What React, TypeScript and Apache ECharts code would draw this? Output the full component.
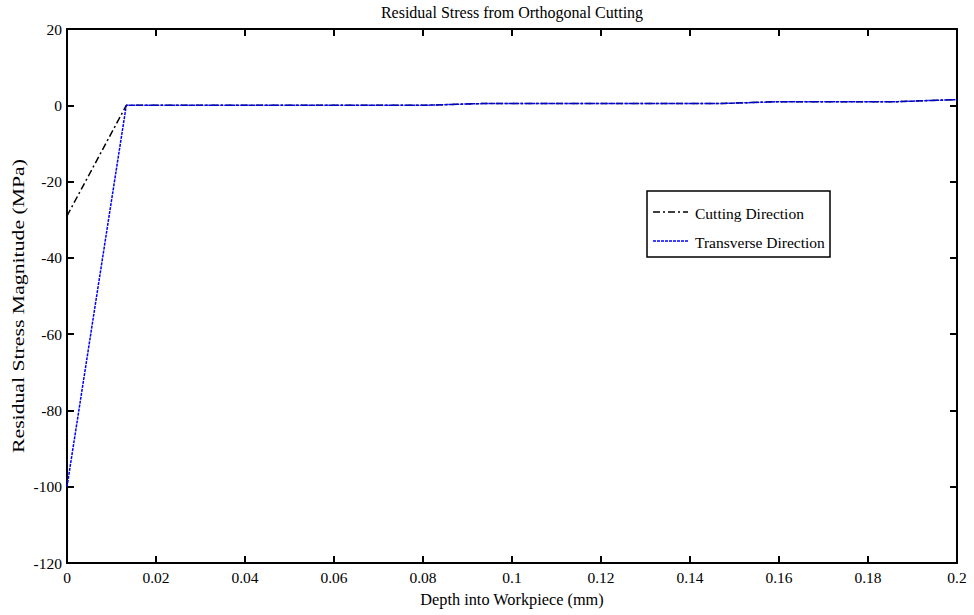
import React, { useEffect, useRef } from "react";
import * as echarts from "echarts";

const depth = [0, 0.01333, 0.02667, 0.04, 0.05333, 0.06667, 0.08, 0.09333, 0.10667, 0.12, 0.13333, 0.14667, 0.16, 0.17333, 0.18667, 0.2];
const cutting = [-29, 0, 0, 0, 0, 0, 0, 0.45, 0.45, 0.45, 0.45, 0.45, 0.95, 0.95, 0.95, 1.5];
const transverse = [-100, 0, 0, 0, 0, 0, 0, 0.45, 0.45, 0.45, 0.45, 0.45, 0.95, 0.95, 0.95, 1.5];
const seriesNames = ["Cutting Direction", "Transverse Direction"];
const yAxisTitle = "Residual Stress Magnitude (MPa)";

const FONT = "'Liberation Serif', 'Times New Roman', Times, serif";

export default function App() {
  const ref = useRef<HTMLDivElement>(null);
  useEffect(() => {
    if (!ref.current) return;
    const chart = echarts.init(ref.current, undefined, { renderer: "svg" });
    const axisCommon = {
      axisLine: { show: true, onZero: false, lineStyle: { color: "#000", width: 2 } },
      axisTick: { show: true, inside: true, length: 7, lineStyle: { color: "#000", width: 2 } },
      splitLine: { show: false },
    };
    const toPairs = (ys: number[]) => depth.map((x, i) => [x, ys[i]]);
    chart.setOption({
      animation: false,
      backgroundColor: "#fff",
      textStyle: { fontFamily: FONT },
      title: {
        text: "Residual Stress from Orthogonal Cutting",
        left: 512,
        textAlign: "center",
        top: 4,
        padding: 0,
        textStyle: { fontFamily: FONT, fontSize: 16, fontWeight: "normal", color: "#000" },
      },
      grid: { left: 67, top: 29, right: 17, bottom: 52 },
      xAxis: [
        {
          type: "value",
          position: "bottom",
          min: 0,
          max: 0.2,
          interval: 0.02,
          name: "Depth into Workpiece (mm)",
          nameLocation: "middle",
          nameGap: 28,
          nameTextStyle: { fontFamily: FONT, fontSize: 16.3, color: "#000" },
          axisLabel: {
            margin: 6,
            fontFamily: FONT,
            fontSize: 15.5,
            color: "#000",
            formatter: (v: number) => String(parseFloat(v.toFixed(2))),
          },
          ...axisCommon,
        },
        {
          type: "value",
          position: "top",
          min: 0,
          max: 0.2,
          interval: 0.02,
          axisLabel: { show: false },
          ...axisCommon,
        },
      ],
      yAxis: [
        {
          type: "value",
          position: "left",
          min: -120,
          max: 20,
          interval: 20,
          axisLabel: { margin: 5, fontFamily: FONT, fontSize: 15.5, color: "#000" },
          ...axisCommon,
        },
        {
          type: "value",
          position: "right",
          min: -120,
          max: 20,
          interval: 20,
          axisLabel: { show: false },
          ...axisCommon,
        },
      ],
      series: [
        {
          name: seriesNames[0],
          type: "line",
          data: toPairs(cutting),
          showSymbol: false,
          symbol: "none",
          lineStyle: { color: "#000", width: 1.5, type: [7, 3, 2, 3] },
          z: 2,
        },
        {
          name: seriesNames[1],
          type: "line",
          data: toPairs(transverse),
          showSymbol: false,
          symbol: "none",
          lineStyle: { color: "#0000ff", width: 1.5, type: [3, 1] },
          z: 3,
        },
      ],
      graphic: [
        {
          type: "text",
          x: 19,
          y: 306,
          rotation: Math.PI / 2,
          scaleX: 1.36,
          scaleY: 1,
          style: {
            text: yAxisTitle,
            fontFamily: FONT,
            fontSize: 16,
            fill: "#000",
            textAlign: "center",
            textVerticalAlign: "middle",
          },
        },
        {
          type: "rect",
          shape: { x: 647, y: 191, width: 183, height: 66 },
          style: { fill: "#fff", stroke: "#000", lineWidth: 1.5 },
          z: 10,
        },
        {
          type: "line",
          shape: { x1: 653, y1: 212, x2: 688, y2: 212 },
          style: { stroke: "#000", lineWidth: 1.5, lineDash: [7, 3, 2, 3] },
          z: 11,
        },
        {
          type: "text",
          x: 695,
          y: 213,
          style: { text: seriesNames[0], fontFamily: FONT, fontSize: 15.5, fill: "#000", textVerticalAlign: "middle" },
          z: 11,
        },
        {
          type: "line",
          shape: { x1: 653, y1: 241, x2: 688, y2: 241 },
          style: { stroke: "#0000ff", lineWidth: 1.5, lineDash: [3, 1] },
          z: 11,
        },
        {
          type: "text",
          x: 695,
          y: 242,
          style: { text: seriesNames[1], fontFamily: FONT, fontSize: 15.5, fill: "#000", textVerticalAlign: "middle" },
          z: 11,
        },
      ],
    });
    return () => chart.dispose();
  }, []);
  return <div ref={ref} style={{ width: 974, height: 615, position: "absolute", left: 0, top: 0 }} />;
}
